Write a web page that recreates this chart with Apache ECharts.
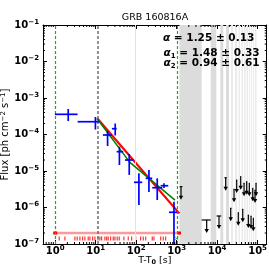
<!DOCTYPE html>
<html><head><meta charset="utf-8">
<script src="https://cdn.jsdelivr.net/npm/echarts@6/dist/echarts.min.js"></script>
<style>html,body{margin:0;padding:0;background:#fff}#c{width:269px;height:271px}</style>
</head><body><div id="c"></div>
<script>
// ---------- data ----------
const chartTitle = 'GRB 160816A';
const xRange = [0.5, 1.68e5];
const yRange = [1e-7, 1e-1];
// LAT flux points
const fluxTime = [2.10, 9.86, 19.7, 30.4, 38.6, 67.5, 117, 207, 332, 487, 860];
const fluxTmin = [0.983, 3.58, 15.1, 25.2, 33.0, 52.9, 88.3, 172, 250, 403, 647];
const fluxTmax = [3.58, 12.2, 25.2, 33.0, 48.0, 84.8, 141.6, 250, 442, 622, 1038];
const fluxVal  = [3.57e-4, 2.24e-4, 9.69e-5, 1.44e-4, 3.38e-5, 2.0e-5, 4.9e-6, 6.3e-6, 3.48e-6, 3.95e-6, 7.4e-7];
const fluxLo   = [2.34e-4, 1.37e-4, 4.84e-5, 9.4e-5, 1.46e-5, 7.8e-6, 1.17e-6, 2.66e-6, 1.6e-6, 3.4e-6, 1e-8];
const fluxHi   = [5.0e-4, 3.01e-4, 1.25e-4, 2.0e-4, 4.63e-5, 2.92e-5, 8.65e-6, 1.06e-5, 6.3e-6, 4.6e-6, 1.44e-6];
// upper limits
const ulTime = [1282, 5530, 11140, 16300, 21700, 26200, 30500, 33400, 38300, 43000, 46300, 53900, 59100, 62500, 68900, 75900, 78500, 86500, 91600];
const ulTmin = [1190, 4160, 9700, 15200, 20800, 25300, 29600, 32500, 37200, 41800, 45000, 52500, 57500, 60900, 67300, 74000, 76600, 84500, 89300];
const ulTmax = [1390, 6950, 12600, 17300, 22600, 27100, 31400, 34300, 39400, 44200, 47600, 55300, 60700, 64100, 70500, 77800, 80400, 88500, 93900];
const ulVal  = [3.72e-6, 4.55e-7, 5.85e-7, 6.55e-6, 9.5e-7, 3.16e-6, 5.66e-6, 7.2e-7, 6.98e-6, 8.9e-7, 4.6e-6, 5.1e-6, 6.24e-7, 4.6e-6, 5.85e-7, 3.36e-6, 5.06e-7, 3.02e-6, 4.6e-6];
// fits
const redFitT = [10.9, 1164];
const redFitF = [2.78e-4, 6.9e-7];
const greenFitT = [10.9, 70, 910];
const greenFitF = [2.7e-4, 1.72e-5, 1.6e-6];
// photon arrival times (rug)
const photonT = [1.26, 1.74, 3.07, 3.50, 4.08, 4.76, 5.42, 6.54, 7.21, 8.41, 9.58, 11.4, 12.7, 14.0, 16.9, 18.7, 20.4, 23.4, 27.2, 29.9, 34.1, 38.2, 49.9, 63.8, 77.4, 97.3, 129, 150, 172, 250, 275, 404, 468, 536];
const photonLevel = 1.42e-7;
const photonSpanT = [1.0, 1143];
const photonSpanF = 2e-7;
const markerXT = [1002];
// vertical lines
const greenDashT = [1.0, 1060];
const greyDashT = [11.2];
const lightLineT = [93];
// shaded intervals
const bandStart = [1175, 6950, 12000, 16600, 22100, 27700, 33800, 40100, 46200, 53300, 61500, 68900, 77200, 86500];
const bandEnd   = [4160, 9550, 14200, 19700, 24700, 31100, 36800, 43700, 50400, 58100, 65100, 72900, 81700, 94200];
// annotation
const alphaText = ['1.25 \u00b1 0.13', '1.48 \u00b1 0.33', '0.94 \u00b1 0.61'];
const minorMult = [2, 3, 4, 5, 6, 7, 8, 9];

// ---------- chart ----------
const FONT = 'DejaVu Sans';
const chart = echarts.init(document.getElementById('c'), null, {renderer: 'canvas', width: 269, height: 271});

function powLabel(v) {
  const l = Math.log10(v), e = Math.round(l);
  if (Math.abs(l - e) > 1e-6) return '';
  return '{b|10}{s|' + (e < 0 ? '\u2212' + (-e) : String(e)) + '}';
}
const labRich = {
  b: {fontFamily: FONT, fontWeight: 'bold', fontSize: 10, color: '#000', lineHeight: 13},
  s: {fontFamily: FONT, fontWeight: 'bold', fontSize: 7, color: '#000', lineHeight: 7, verticalAlign: 'top'}
};
const axisLine = {show: true, onZero: false, lineStyle: {color: '#000', width: 1}};
const axisTick = {show: true, inside: true, length: 4, lineStyle: {color: '#000', width: 1}};
const noSplit = {splitLine: {show: false}, minorSplitLine: {show: false}, minorTick: {show: false}, splitArea: {show: false}};

const errData = fluxTime.map((t, i) => [t, fluxVal[i], fluxTmin[i], fluxTmax[i], fluxLo[i], fluxHi[i]]);
const ulData = ulTime.map((t, i) => [t, ulVal[i], ulTmin[i], ulTmax[i]]);

const option = {
  animation: false,
  backgroundColor: '#fff',
  grid: {left: 43, right: 2.3, top: 25, bottom: 27, outerBoundsMode: 'none', containLabel: false},
  xAxis: [
    Object.assign({type: 'log', logBase: 10, min: xRange[0], max: xRange[1], position: 'bottom',
     axisLine, axisTick,
     axisLabel: {formatter: powLabel, rich: labRich, margin: 1},
     name: 'T-T{sb|0} [s]', nameLocation: 'middle', nameGap: 12, nameMoveOverlap: false,
     nameTextStyle: {fontFamily: FONT, fontSize: 9.5, color: '#000',
       rich: {sb: {fontFamily: FONT, fontSize: 6.5, fontWeight: 'bold', color: '#000', verticalAlign: 'bottom', lineHeight: 6}}}}, noSplit),
    Object.assign({type: 'log', logBase: 10, min: xRange[0], max: xRange[1], position: 'top',
     axisLine, axisTick, axisLabel: {show: false}}, noSplit)
  ],
  yAxis: [
    Object.assign({type: 'log', logBase: 10, min: yRange[0], max: yRange[1], position: 'left',
     axisLine, axisTick,
     axisLabel: {formatter: powLabel, rich: labRich, margin: 4},
     name: 'Flux [ph cm{sp|\u22122} s{sp|\u22121}]', nameLocation: 'middle', nameGap: 33, nameMoveOverlap: false,
     nameTextStyle: {fontFamily: FONT, fontSize: 10, color: '#000',
       rich: {sp: {fontFamily: FONT, fontSize: 7, color: '#000', verticalAlign: 'top', lineHeight: 7}}}}, noSplit),
    Object.assign({type: 'log', logBase: 10, min: yRange[0], max: yRange[1], position: 'right',
     axisLine, axisTick, axisLabel: {show: false}}, noSplit)
  ],
  graphic: {elements: [
    {type: 'text', z: 100, x: 155, y: 18, style: {text: chartTitle, fontFamily: FONT, fontSize: 9.5, fill: '#000', align: 'center', verticalAlign: 'middle'}},
    {type: 'text', z: 100, x: 163, y: 38.7, style: {text: '{a|\u03b1} = ' + alphaText[0], fontFamily: FONT, fontWeight: 'bold', fontSize: 10.5, fill: '#000', align: 'left', verticalAlign: 'middle',
      rich: {a: {fontFamily: FONT, fontWeight: 'bold', fontStyle: 'italic', fontSize: 10.5, fill: '#000'}}}},
    {type: 'text', z: 100, x: 163.5, y: 53.5, style: {text: '{a|\u03b1}{u|1} = ' + alphaText[1], fontFamily: FONT, fontWeight: 'bold', fontSize: 10.5, fill: '#000', align: 'left', verticalAlign: 'middle',
      rich: {a: {fontFamily: FONT, fontWeight: 'bold', fontStyle: 'italic', fontSize: 10.5, fill: '#000', lineHeight: 13},
             u: {fontFamily: FONT, fontWeight: 'bold', fontSize: 7, fill: '#000', lineHeight: 7, verticalAlign: 'bottom'}}}},
    {type: 'text', z: 100, x: 163.5, y: 63.5, style: {text: '{a|\u03b1}{u|2} = ' + alphaText[2], fontFamily: FONT, fontWeight: 'bold', fontSize: 10.5, fill: '#000', align: 'left', verticalAlign: 'middle',
      rich: {a: {fontFamily: FONT, fontWeight: 'bold', fontStyle: 'italic', fontSize: 10.5, fill: '#000', lineHeight: 13},
             u: {fontFamily: FONT, fontWeight: 'bold', fontSize: 7, fill: '#000', lineHeight: 7, verticalAlign: 'bottom'}}}}
  ]},
  series: [
    { // shaded intervals
      type: 'line', data: [], z: 0, silent: true,
      markArea: {silent: true, data: bandStart.map((s, i) => [
        {xAxis: s, itemStyle: {color: i < 4 ? '#dcdcdc' : '#ebebeb', borderWidth: 0}}, {xAxis: bandEnd[i]}])}
    },
    { // vertical reference lines
      type: 'line', data: [], z: 1, silent: true,
      markLine: {silent: true, symbol: ['none', 'none'], label: {show: false},
        data: [].concat(
          lightLineT.map(t => ({xAxis: t, lineStyle: {color: '#e2e2e2', width: 1, type: 'solid'}})),
          greyDashT.map(t => ({xAxis: t, lineStyle: {color: '#707070', width: 1.5, type: [3, 2]}})),
          greenDashT.map(t => ({xAxis: t, lineStyle: {color: '#2ca02c', width: 1.2, type: [3, 2]}}))
        )}
    },
    { // photon span line
      type: 'line', z: 3, data: photonSpanT.map(t => [t, photonSpanF]),
      lineStyle: {color: 'rgba(255,0,0,0.4)', width: 2.5}, symbol: 'rect', symbolSize: [4, 3],
      itemStyle: {color: '#ff0000'}, showSymbol: true
    },
    { // photon rug
      type: 'scatter', z: 3, data: photonT.map(t => [t, photonLevel]),
      symbol: 'rect', symbolSize: [1.2, 4], itemStyle: {color: '#ff0000'}
    },
    { // marker
      type: 'scatter', z: 3, data: markerXT.map(t => [t, photonLevel]),
      symbol: 'path://M0,0L4,4M4,0L0,4', symbolSize: 3.5,
      itemStyle: {color: 'none', borderColor: '#2ca02c', borderWidth: 1}
    },
    { // red fit
      type: 'line', z: 4, data: redFitT.map((t, i) => [t, redFitF[i]]), showSymbol: false,
      lineStyle: {color: '#ff0000', width: 2.2}
    },
    { // green fit
      type: 'line', z: 5, data: greenFitT.map((t, i) => [t, greenFitF[i]]), showSymbol: false,
      lineStyle: {color: '#008000', width: 1.5}
    },
    { // flux error bars
      type: 'custom', z: 6, data: errData,
      renderItem: function (params, api) {
        const cs = params.coordSys;
        const t = api.value(0), f = api.value(1);
        const a = api.coord([api.value(2), f]), b = api.coord([api.value(3), f]);
        const lo = api.coord([t, api.value(4)]), hi = api.coord([t, api.value(5)]);
        const bottom = cs.y + cs.height;
        return {type: 'group', children: [
          {type: 'line', shape: {x1: a[0], y1: a[1], x2: b[0], y2: b[1]}, style: {stroke: '#0000ff', lineWidth: 1.7}},
          {type: 'line', shape: {x1: lo[0], y1: Math.min(lo[1], bottom), x2: hi[0], y2: hi[1]}, style: {stroke: '#0000ff', lineWidth: 1.7}}
        ]};
      }
    },
    { // upper limits
      type: 'custom', z: 6, data: ulData,
      renderItem: function (params, api) {
        const t = api.value(0), f = api.value(1);
        const c = api.coord([t, f]);
        const a = api.coord([api.value(2), f]), b = api.coord([api.value(3), f]);
        const L = 13;
        return {type: 'group', children: [
          {type: 'line', shape: {x1: a[0], y1: c[1], x2: b[0], y2: c[1]}, style: {stroke: '#000', lineWidth: 1.2}},
          {type: 'line', shape: {x1: c[0], y1: c[1], x2: c[0], y2: c[1] + L - 3}, style: {stroke: '#000', lineWidth: 1.2}},
          {type: 'polygon', shape: {points: [[c[0] - 2.2, c[1] + L - 4], [c[0] + 2.2, c[1] + L - 4], [c[0], c[1] + L]]}, style: {fill: '#000'}}
        ]};
      }
    },
    { // minor ticks
      type: 'custom', z: 10, silent: true, data: [[1, 1e-4]],
      renderItem: function (params, api) {
        const cs = params.coordSys;
        const ch = [];
        for (let n = -1; n <= 5; n++) for (const m of minorMult) {
          const v = m * Math.pow(10, n);
          if (v <= xRange[0] || v >= xRange[1]) continue;
          const x = api.coord([v, 1e-4])[0];
          ch.push({type: 'line', shape: {x1: x, y1: cs.y + cs.height, x2: x, y2: cs.y + cs.height - 2}, style: {stroke: '#000', lineWidth: 1}});
          ch.push({type: 'line', shape: {x1: x, y1: cs.y, x2: x, y2: cs.y + 2}, style: {stroke: '#000', lineWidth: 1}});
        }
        for (let n = -7; n <= -2; n++) for (const m of minorMult) {
          const v = m * Math.pow(10, n);
          if (v <= yRange[0] || v >= yRange[1]) continue;
          const y = api.coord([1, v])[1];
          ch.push({type: 'line', shape: {x1: cs.x, y1: y, x2: cs.x + 2, y2: y}, style: {stroke: '#000', lineWidth: 1}});
          ch.push({type: 'line', shape: {x1: cs.x + cs.width, y1: y, x2: cs.x + cs.width - 2, y2: y}, style: {stroke: '#000', lineWidth: 1}});
        }
        return {type: 'group', children: ch};
      }
    }
  ]
};
chart.setOption(option);
</script>
</body></html>
